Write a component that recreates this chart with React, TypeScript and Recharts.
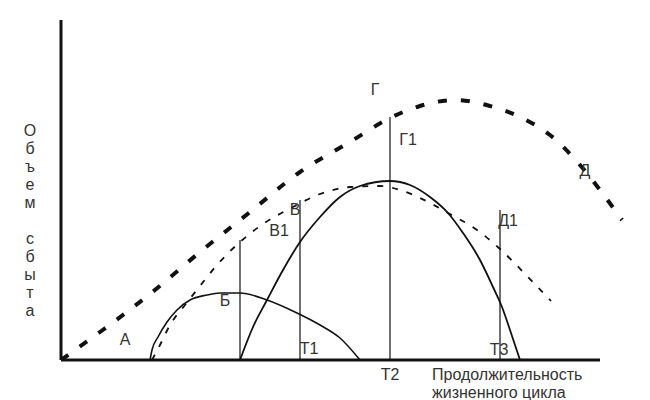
import { ComposedChart, Line, ReferenceDot, ReferenceLine, XAxis, YAxis } from "recharts";

// x = time along the life cycle, y = sales volume (arbitrary units)
const totalMarket = [
  { x: 0, y: 0 }, { x: 39, y: 28 }, { x: 89, y: 66 }, { x: 139, y: 108 }, { x: 189, y: 148 },
  { x: 239, y: 188 }, { x: 289, y: 218 }, { x: 329, y: 242 }, { x: 359, y: 254 }, { x: 394, y: 260 },
  { x: 429, y: 254 }, { x: 459, y: 243 }, { x: 489, y: 225 }, { x: 519, y: 195 }, { x: 539, y: 170 },
  { x: 561, y: 140 },
];
const summedProducts = [
  { x: 91, y: 0 }, { x: 99, y: 15 }, { x: 109, y: 35 }, { x: 124, y: 55 }, { x: 139, y: 74 },
  { x: 156, y: 95 }, { x: 179, y: 118 }, { x: 202, y: 136 }, { x: 232, y: 153 }, { x: 259, y: 166 },
  { x: 289, y: 173 }, { x: 319, y: 174 }, { x: 339, y: 170 }, { x: 359, y: 162 }, { x: 387, y: 147 },
  { x: 416, y: 130 }, { x: 439, y: 111 }, { x: 467, y: 83 }, { x: 490, y: 59 },
];
const firstProduct = [
  { x: 89, y: 0 }, { x: 91, y: 10 }, { x: 97, y: 23 }, { x: 106, y: 38 }, { x: 116, y: 50 },
  { x: 129, y: 60 }, { x: 146, y: 65 }, { x: 159, y: 67 }, { x: 179, y: 67 }, { x: 206, y: 60 },
  { x: 236, y: 47 }, { x: 259, y: 35 }, { x: 279, y: 22 }, { x: 299, y: 0 },
];
const secondProduct = [
  { x: 179, y: 0 }, { x: 192, y: 33 }, { x: 206, y: 60 }, { x: 222, y: 90 }, { x: 239, y: 118 },
  { x: 259, y: 143 }, { x: 279, y: 163 }, { x: 299, y: 174 }, { x: 329, y: 179 }, { x: 349, y: 175 },
  { x: 369, y: 163 }, { x: 387, y: 147 }, { x: 402, y: 127 }, { x: 419, y: 100 }, { x: 432, y: 73 },
  { x: 441, y: 53 }, { x: 449, y: 30 }, { x: 459, y: 0 },
];
// vertical markers: time and the height they reach
const markers = [
  { x: 179, top: 120 },
  { x: 239, top: 160 },
  { x: 329, top: 243 },
  { x: 439, top: 150 },
];
const pointLabels = [
  { text: "А", x: 64, y: 21 },
  { text: "Б", x: 164, y: 60 },
  { text: "В", x: 234, y: 151 },
  { text: "В1", x: 218, y: 130 },
  { text: "Г", x: 314, y: 271 },
  { text: "Г1", x: 347, y: 221 },
  { text: "Д", x: 524, y: 190 },
  { text: "Д1", x: 447, y: 140 },
  { text: "Т1", x: 248, y: 12 },
  { text: "Т2", x: 329, y: -14 },
  { text: "Т3", x: 438, y: 11 },
];
const xTitle = ["Продолжительность", "жизненного цикла"];
const yTitle = ["О", "б", "ъ", "е", "м", "", "с", "б", "ы", "т", "а"];

const ink = "#111";
const textColor = "#333";

export default function App() {
  const yLetters = yTitle
    .map((ch, i) => ({ ch, y: 230 - i * 18 }))
    .filter((l) => l.ch !== "");
  return (
    <div style={{ fontFamily: "'Liberation Sans', Arial, sans-serif" }}>
      <ComposedChart width={650} height={400} margin={{ top: 12, right: 27, bottom: 48, left: 53 }}>
        <XAxis type="number" dataKey="x" domain={[0, 570]} hide allowDataOverflow />
        <YAxis type="number" dataKey="y" domain={[0, 340]} hide allowDataOverflow />

        <ReferenceLine segment={[{ x: 0, y: 0 }, { x: 0, y: 340 }]} stroke={ink} strokeWidth={3} ifOverflow="visible" />
        <ReferenceLine segment={[{ x: 0, y: 0 }, { x: 539, y: 0 }]} stroke={ink} strokeWidth={3} ifOverflow="visible" />

        {markers.map((m) => (
          <ReferenceLine
            key={m.x}
            segment={[{ x: m.x, y: 0 }, { x: m.x, y: m.top }]}
            stroke={ink}
            strokeWidth={1.2}
          />
        ))}

        <Line data={totalMarket} dataKey="y" type="monotone" stroke={ink} strokeWidth={4}
          strokeDasharray="9 14" dot={false} isAnimationActive={false} />
        <Line data={summedProducts} dataKey="y" type="monotone" stroke={ink} strokeWidth={1.8}
          strokeDasharray="6 9" dot={false} isAnimationActive={false} />
        <Line data={firstProduct} dataKey="y" type="monotone" stroke={ink} strokeWidth={1.6}
          dot={false} isAnimationActive={false} />
        <Line data={secondProduct} dataKey="y" type="monotone" stroke={ink} strokeWidth={1.8}
          dot={false} isAnimationActive={false} />

        {pointLabels.map((l) => (
          <ReferenceDot key={l.text} x={l.x} y={l.y} r={0} fill="none" stroke="none" ifOverflow="visible"
            label={{ value: l.text, position: "center", fill: textColor, fontSize: 16 }} />
        ))}
        {xTitle.map((t, i) => (
          <ReferenceDot key={t} x={371} y={-14 - i * 18} r={0} fill="none" stroke="none" ifOverflow="visible"
            label={{ value: t, position: "right", offset: 0, fill: textColor, fontSize: 16 }} />
        ))}
        {yLetters.map((l, i) => (
          <ReferenceDot key={i} x={-31} y={l.y} r={0} fill="none" stroke="none" ifOverflow="visible"
            label={{ value: l.ch, position: "center", fill: textColor, fontSize: 16 }} />
        ))}
      </ComposedChart>
    </div>
  );
}
